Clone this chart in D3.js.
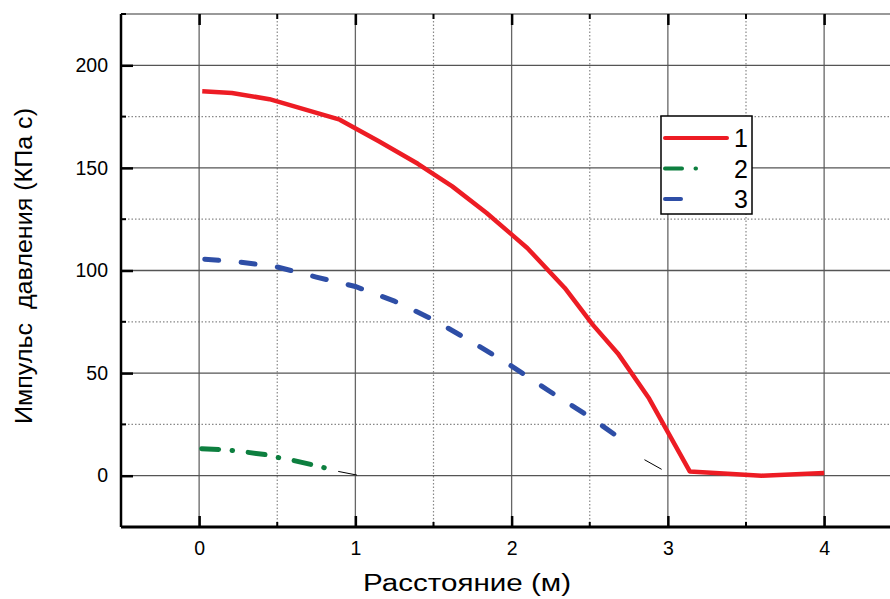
<!DOCTYPE html>
<html lang="ru">
<head>
<meta charset="UTF-8">
<script src="https://d3js.org/d3.v7.min.js"></script>
<title>Импульс давления</title>
<style>
    body { margin: 0; background: #fff; }
    svg { display: block; font-family: 'Liberation Sans', Arial, sans-serif; }
    .tick text { fill: #000; }
    .title { font-size: 23px; fill: #000; }
</style>
</head>
<body>
<svg width="890" height="599"></svg>
<script>
    const width = 890, height = 599;

    // series values
    const x1 = [0.02, 0.21, 0.45, 0.9, 1.15, 1.4, 1.62, 1.84, 2.1, 2.34, 2.52, 2.68, 2.88, 3.14, 3.6, 4.0];
    const y1 = [187.3, 186.5, 183.5, 173.5, 163, 152, 141, 128, 111, 91.5, 73.5, 59.6, 37.6, 2.1, 0, 1.3];
    const x2 = [0, 0.13, 0.21, 0.3, 0.43, 0.51, 0.6, 0.72, 0.81];
    const y2 = [13.2, 12.8, 12.3, 11.5, 10.2, 8.8, 7.5, 5.4, 3.7];
    const x3 = [0.02, 0.25, 0.5, 0.75, 1.0, 1.25, 1.5, 1.75, 2.0, 2.25, 2.5, 2.73];
    const y3 = [105.6, 104.2, 101.7, 96.8, 92.2, 85.1, 76, 65, 53.4, 40.8, 28.6, 16.3];
    // short thin leader segments
    const leaderA = [[0.89, 2.1], [1.01, 0.3]];
    const leaderB = [[2.85, 7.8], [2.96, 3.1]];

    const xMajor = [0, 1, 2, 3, 4];
    const xMinor = [0.5, 1.5, 2.5, 3.5];
    const yMajor = [0, 50, 100, 150, 200];
    const yMinor = [25, 75, 125, 175, 225];
    const legendLabels = ["1", "2", "3"];

    const pLeft = 121, pTop = 14, pBottom = 527;
    const x = d3.scaleLinear().domain([-0.5, 4.5]).range([pLeft, pLeft + 5 * 156.25]);
    const y = d3.scaleLinear().domain([-25, 225]).range([pBottom, pTop]);

    const svg = d3.select("svg");

    // grid
    const grid = svg.append("g");
    grid.selectAll(".vminor").data(xMinor).enter().append("line")
        .attr("x1", x).attr("x2", x).attr("y1", pTop).attr("y2", pBottom)
        .attr("stroke", "#888").attr("stroke-width", 1.2).attr("stroke-dasharray", "1.5,2");
    grid.selectAll(".hminor").data(yMinor.filter(d => d < 225)).enter().append("line")
        .attr("x1", pLeft).attr("x2", width).attr("y1", y).attr("y2", y)
        .attr("stroke", "#888").attr("stroke-width", 1.2).attr("stroke-dasharray", "1.5,2");
    grid.selectAll(".vmajor").data(xMajor).enter().append("line")
        .attr("x1", x).attr("x2", x).attr("y1", pTop).attr("y2", pBottom)
        .attr("stroke", "#666").attr("stroke-width", 1.3);
    grid.selectAll(".hmajor").data(yMajor).enter().append("line")
        .attr("x1", pLeft).attr("x2", width).attr("y1", y).attr("y2", y)
        .attr("stroke", "#555").attr("stroke-width", 1.3);
    // top frame
    grid.append("line").attr("x1", pLeft).attr("x2", width).attr("y1", pTop).attr("y2", pTop)
        .attr("stroke", "#999").attr("stroke-width", 2);

    // curves
    const line = d3.line().x(d => x(d[0])).y(d => y(d[1]));
    const plot = svg.append("g");
    plot.append("path").datum(d3.zip(x1, y1)).attr("d", line)
        .attr("fill", "none").attr("stroke", "#ed1c24").attr("stroke-width", 4.5)
        .attr("stroke-linejoin", "round");
    plot.append("path").datum(d3.zip(x2, y2)).attr("d", line)
        .attr("fill", "none").attr("stroke", "#0d7f3f").attr("stroke-width", 5)
        .attr("stroke-linecap", "round").attr("stroke-dasharray", "17,13.5,0.5,15.7")
        .attr("stroke-dashoffset", -2.5);
    plot.append("path").datum(d3.zip(x3, y3)).attr("d", line)
        .attr("fill", "none").attr("stroke", "#2e4ea6").attr("stroke-width", 5)
        .attr("stroke-linecap", "round").attr("stroke-dasharray", "14,22.5")
        .attr("stroke-dashoffset", -2.5);
    [leaderA, leaderB].forEach(seg => plot.append("path").datum(seg).attr("d", line)
        .attr("fill", "none").attr("stroke", "#000").attr("stroke-width", 1));

    // axes
    const yAxis = d3.axisLeft(y).tickValues(yMajor).tickSize(-12).tickPadding(13);
    const gy = svg.append("g").attr("transform", `translate(${pLeft},0)`).call(yAxis);
    gy.selectAll(".minor").data(yMinor).enter().append("line")
        .attr("x1", 0).attr("x2", 5).attr("y1", y).attr("y2", y)
        .attr("stroke", "#000").attr("stroke-width", 2);
    const xAxis = d3.axisBottom(x).tickValues(xMajor).tickFormat(d3.format("d"))
        .tickSize(-11).tickPadding(14);
    const gx = svg.append("g").attr("transform", `translate(0,${pBottom})`).call(xAxis);
    gx.selectAll(".minor").data(xMinor).enter().append("line")
        .attr("x1", x).attr("x2", x).attr("y1", 0).attr("y2", -5)
        .attr("stroke", "#000").attr("stroke-width", 2);
    const xTop = d3.axisTop(x).tickValues(xMajor).tickSize(-11).tickFormat("");
    const gt = svg.append("g").attr("transform", `translate(0,${pTop})`).call(xTop);
    gt.selectAll(".minor").data(xMinor).enter().append("line")
        .attr("x1", x).attr("x2", x).attr("y1", 0).attr("y2", 5)
        .attr("stroke", "#000").attr("stroke-width", 2);
    gt.select(".domain").remove();
    [gx, gy, gt].forEach(g => {
        g.selectAll(".tick line").attr("stroke", "#000").attr("stroke-width", 2.5);
        g.selectAll(".tick text").style("font-family", "'Liberation Sans', Arial, sans-serif")
            .attr("font-size", 19.5);
    });
    gy.select(".domain").attr("d", `M0,${pTop}V${pBottom}`).attr("stroke", "#000").attr("stroke-width", 2.5);
    gx.select(".domain").attr("d", `M${pLeft},0H${width}`).attr("stroke", "#000").attr("stroke-width", 3);

    // titles
    svg.append("text").attr("class", "title").attr("x", 467).attr("y", 591)
        .attr("text-anchor", "middle")
        .attr("textLength", 208).attr("lengthAdjust", "spacingAndGlyphs")
        .text("Расстояние (м)");
    svg.append("text").attr("class", "title")
        .attr("transform", "translate(32,266) rotate(-90)")
        .attr("text-anchor", "middle").attr("xml:space", "preserve")
        .attr("textLength", 316).attr("lengthAdjust", "spacingAndGlyphs")
        .text("Импульс  давления (КПа с)");

    // legend
    const lg = svg.append("g");
    lg.append("rect").attr("x", 661).attr("y", 116).attr("width", 91).attr("height", 98)
        .attr("fill", "#fff").attr("stroke", "#000").attr("stroke-width", 1.5);
    const styles = [
        { c: "#ed1c24", dash: null, len: 66 },
        { c: "#0d7f3f", dash: "17,13.5,0.5,40", len: 35 },
        { c: "#2e4ea6", dash: null, len: 20 }
    ];
    legendLabels.forEach((t, i) => {
        const yy = 138 + i * 30.5;
        const s = styles[i];
        lg.append("line").attr("x1", 665).attr("x2", 665 + s.len - 4).attr("y1", yy).attr("y2", yy)
            .attr("stroke", s.c).attr("stroke-width", 4).attr("stroke-linecap", "round")
            .attr("stroke-dasharray", s.dash);
        lg.append("text").attr("x", 748).attr("y", yy + 9).attr("text-anchor", "end")
            .attr("font-size", 25).text(t);
    });
</script>
</body>
</html>
